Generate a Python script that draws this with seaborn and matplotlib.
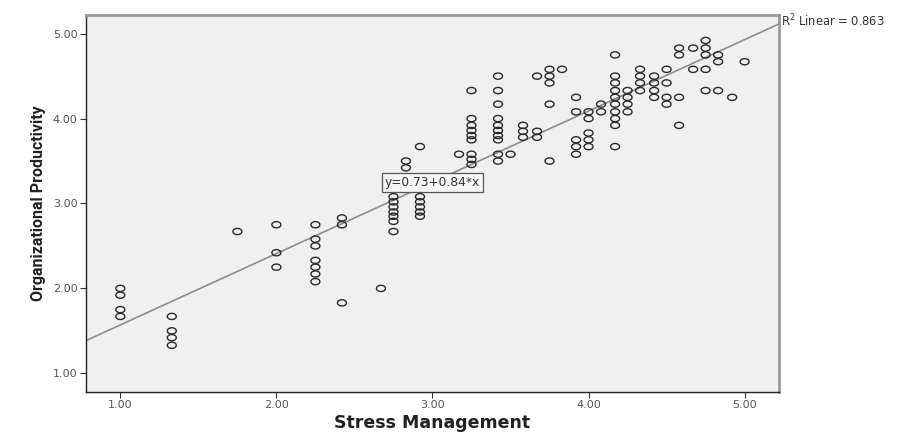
"""
Scatter of Stress Management vs Organizational Productivity with linear fit (SPSS style)
"""

import numpy as np
import pandas as pd
import matplotlib
matplotlib.use("Agg")
import matplotlib.pyplot as plt
from matplotlib.path import Path
import seaborn as sns

# 数据 (column by column)
stress = (
    [1.00] * 4 + [1.33] * 4 + [1.75] + [2.00] * 3 + [2.25] * 7 + [2.42] * 3
    + [2.67] + [2.75] * 7 + [2.83] * 2 + [2.92] * 6 + [3.17] + [3.25] * 9
    + [3.42] * 10 + [3.50] + [3.58] * 3 + [3.67] * 3 + [3.75] * 5 + [3.83]
    + [3.92] * 5 + [4.00] * 5 + [4.08] * 2 + [4.17] * 10 + [4.25] * 4
    + [4.33] * 4 + [4.42] * 4 + [4.50] * 4 + [4.58] * 4 + [4.67] * 2
    + [4.75] * 5 + [4.83] * 3 + [4.92] + [5.00]
)
productivity = [
    2.00, 1.92, 1.75, 1.67,
    1.67, 1.50, 1.42, 1.33,
    2.67,
    2.75, 2.42, 2.25,
    2.75, 2.58, 2.50, 2.33, 2.25, 2.17, 2.08,
    2.83, 2.75, 1.83,
    2.00,
    3.08, 3.02, 2.96, 2.90, 2.85, 2.79, 2.67,
    3.50, 3.42,
    3.67, 3.08, 3.02, 2.96, 2.90, 2.85,
    3.58,
    4.33, 4.00, 3.92, 3.86, 3.80, 3.75, 3.58, 3.52, 3.46,
    4.50, 4.33, 4.17, 4.00, 3.92, 3.86, 3.80, 3.75, 3.58, 3.50,
    3.58,
    3.92, 3.85, 3.78,
    4.50, 3.85, 3.78,
    4.58, 4.50, 4.42, 4.17, 3.50,
    4.58,
    4.25, 4.08, 3.75, 3.67, 3.58,
    4.08, 4.00, 3.83, 3.75, 3.67,
    4.17, 4.08,
    4.75, 4.50, 4.42, 4.33, 4.25, 4.17, 4.08, 4.00, 3.92, 3.67,
    4.33, 4.25, 4.17, 4.08,
    4.58, 4.50, 4.42, 4.33,
    4.50, 4.42, 4.33, 4.25,
    4.58, 4.42, 4.25, 4.17,
    4.83, 4.75, 4.25, 3.92,
    4.83, 4.58,
    4.92, 4.83, 4.75, 4.58, 4.33,
    4.75, 4.67, 4.33,
    4.25,
    4.67,
]

# fit line from the printed equation
intercept = 0.73
slope = 0.84
r_squared = 0.863

x_ticks = [1.00, 2.00, 3.00, 4.00, 5.00]
y_ticks = [1.00, 2.00, 3.00, 4.00, 5.00]
axis_lim = (0.78, 5.22)

df = pd.DataFrame({"Stress Management": stress,
                   "Organizational Productivity": productivity})

sns.set_style("white")
plt.rcParams['font.family'] = ['DejaVu Sans']

fig = plt.figure(figsize=(9.04, 4.32), dpi=100)
ax = fig.add_axes([0.0951, 0.0926, 0.7666, 0.8727])
ax.set_facecolor("#f0f0f0")

# elliptical open marker like the SPSS output
t = np.linspace(0, 2 * np.pi, 40)
ellipse = Path(np.column_stack([1.45 * np.cos(t), np.sin(t)]))

sns.scatterplot(data=df, x="Stress Management", y="Organizational Productivity",
                ax=ax, marker=ellipse, s=42, facecolors="none",
                edgecolor="#2a2a2a", linewidth=1.0, zorder=3)

line_x = np.array(axis_lim)
sns.lineplot(x=line_x, y=intercept + slope * line_x, ax=ax,
             color="#8c8c8c", linewidth=1.2, zorder=2)

ax.set_xlim(*axis_lim)
ax.set_ylim(*axis_lim)
ax.set_xticks(x_ticks)
ax.set_yticks(y_ticks)
ax.set_xticklabels([f"{v:.2f}" for v in x_ticks])
ax.set_yticklabels([f"{v:.2f}" for v in y_ticks])
ax.tick_params(axis="both", direction="out", length=4, width=0.8,
               labelsize=8, labelcolor="#555555", color="#333333",
               bottom=True, left=True, pad=2)

for side in ["left", "bottom"]:
    ax.spines[side].set_color("#222222")
    ax.spines[side].set_linewidth(1.0)
for side in ["top", "right"]:
    ax.spines[side].set_color("#9a9a9a")
    ax.spines[side].set_linewidth(2.0)

ax.set_xlabel("Stress Management", fontsize=12.5, fontweight="bold",
              color="#222222", labelpad=3)
ax.set_ylabel("Organizational Productivity", fontsize=11.5, fontweight="bold",
              color="#222222", labelpad=5,
              family=["Liberation Sans Narrow", "Roboto", "DejaVu Sans"])

ax.text(3.0, 3.25, f"y={intercept:.2f}+{slope:.2f}*x", fontsize=8.8,
        color="#333333", ha="center", va="center", zorder=4,
        bbox=dict(boxstyle="square,pad=0.25", facecolor="#f6f6f6",
                  edgecolor="#555555", linewidth=0.9))

ax.text(1.003, 0.985, f"R$^2$ Linear = {r_squared:.3f}", transform=ax.transAxes,
        fontsize=8.3, color="#333333", ha="left", va="center")

plt.savefig("out.png", dpi=100)
